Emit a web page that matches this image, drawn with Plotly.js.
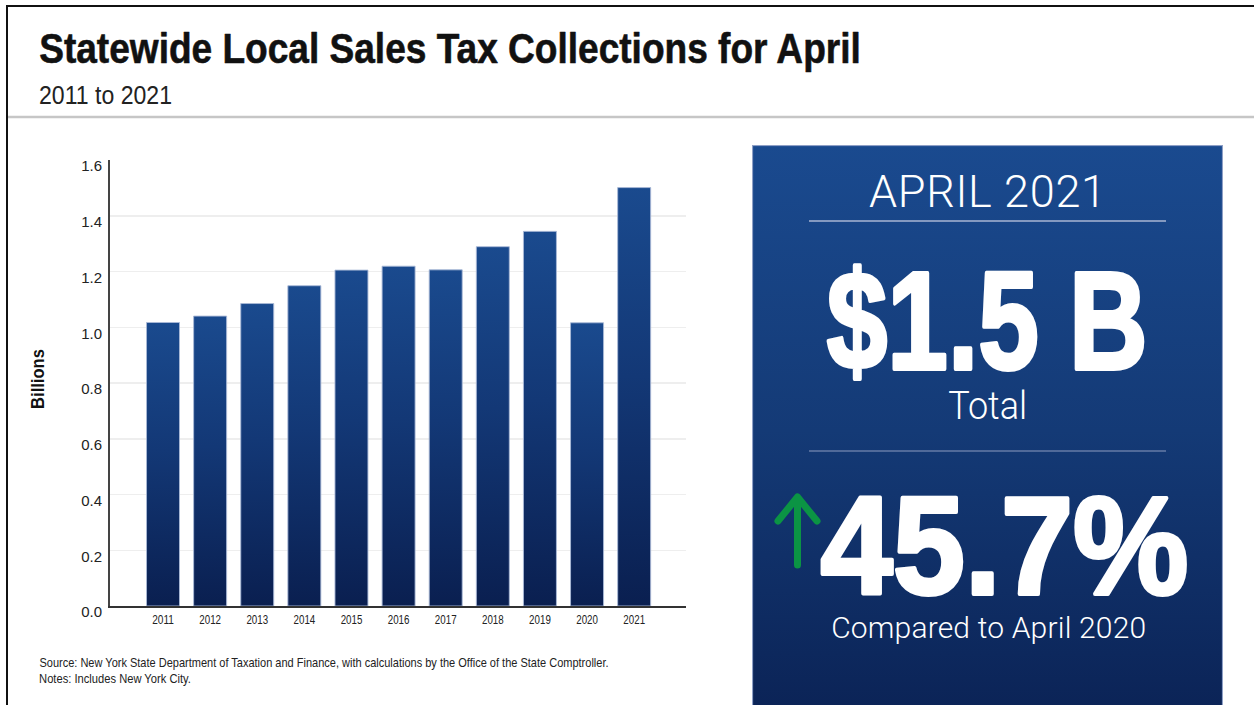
<!DOCTYPE html>
<html>
<head>
<meta charset="utf-8">
<script src="https://cdn.plot.ly/plotly-3.0.1.min.js"></script>
<style>
  html, body { margin: 0; padding: 0; background: #fff; }
  #chart { width: 1254px; height: 705px; }
</style>
</head>
<body>
<div id="chart"></div>
<script>
// ---- data ----
const years = ['2011','2012','2013','2014','2015','2016','2017','2018','2019','2020','2021'];
const collections = [1.017, 1.040, 1.085, 1.149, 1.205, 1.219, 1.206, 1.289, 1.344, 1.016, 1.501];
const yTickVals = [0, 0.2, 0.4, 0.6, 0.8, 1.0, 1.2, 1.4, 1.6];
const yTickText = ['0.0','0.2','0.4','0.6','0.8','1.0','1.2','1.4','1.6'];

const titleText = 'Statewide Local Sales Tax Collections for April';
const subtitleText = '2011 to 2021';
const yLabel = 'Billions';
const panelHeading = 'APRIL 2021';
const panelTotal = '$1.5 B';
const panelTotalLabel = 'Total';
const panelChange = '45.7%';
const panelChangeLabel = 'Compared to April 2020';
const sourceText = 'Source: New York State Department of Taxation and Finance, with calculations by the Office of the State Comptroller.';
const notesText = 'Notes: Includes New York City.';

// ---- layout helpers (pixel -> paper) ----
const W = 1254, H = 705;
const M = {l: 110, r: W - 686, t: 160, b: H - 606};
const PW = W - M.l - M.r, PH = H - M.t - M.b;
const X = px => (px - M.l) / PW;
const Y = py => (H - M.b - py) / PH;

const SANS = 'Liberation Sans, Arial, Helvetica, sans-serif';
const LIGHT = 'Roboto, Liberation Sans, sans-serif';

const panelSvg = '<svg xmlns="http://www.w3.org/2000/svg" width="471" height="565" viewBox="0 0 471 565" preserveAspectRatio="none">' +
  '<defs><linearGradient id="g" x1="0" y1="0" x2="0" y2="1">' +
  '<stop offset="0" stop-color="#1a4a8f"/><stop offset="0.5" stop-color="#143a76"/><stop offset="1" stop-color="#0b2356"/>' +
  '</linearGradient></defs>' +
  '<rect x="0.5" y="0.5" width="470" height="570" fill="url(#g)" stroke="#8fa0c6" stroke-width="1.2"/></svg>';
const panelSrc = 'data:image/svg+xml;charset=utf-8,' + encodeURIComponent(panelSvg);

const data = [{
  type: 'bar',
  x: years,
  y: collections,
  width: 0.7,
  marker: { color: '#143d7a', line: { color: 'rgba(170,185,215,0.9)', width: 1 } },
  hoverinfo: 'x+y'
}];

function ann(text, px, py, font, opts) {
  return Object.assign({
    text: text, xref: 'paper', yref: 'paper', x: X(px), y: Y(py),
    xanchor: 'center', yanchor: 'middle', showarrow: false, font: font
  }, opts || {});
}

// fitting of text widths: [mode, target width px, anchor, extra stroke]
const fits = [];
const annotations = [];
function addAnn(a, fit) { annotations.push(a); fits.push(fit); }

addAnn(ann(titleText, 37, 48, { size: 43, family: SANS, color: '#111111', weight: 'bold' }, { xanchor: 'left' }), ['scale', 822, 'start', 0.6]);
addAnn(ann(subtitleText, 37, 95, { size: 25, family: SANS, color: '#222222' }, { xanchor: 'left' }), ['scale', 133, 'start', 0]);
addAnn(ann(yLabel, 38.5, 379, { size: 18, family: SANS, color: '#111111', weight: 'bold' }, { textangle: -90 }), ['scale', 60, 'middle', 0]);
addAnn(ann(sourceText, 37, 663, { size: 12.5, family: SANS, color: '#222222' }, { xanchor: 'left' }), ['scale', 570, 'start', 0]);
addAnn(ann(notesText, 37, 679, { size: 12.5, family: SANS, color: '#222222' }, { xanchor: 'left' }), ['scale', 152, 'start', 0]);
addAnn(ann(panelHeading, 987, 191, { size: 45, family: LIGHT, color: '#ffffff', weight: 300 }), ['space', 237, 'middle', 0]);
addAnn(ann(panelTotal, 986.5, 320, { size: 140, family: SANS, color: '#ffffff', weight: 'bold' }), ['scale', 321, 'middle', 4]);
addAnn(ann(panelTotalLabel, 987.5, 406, { size: 38, family: LIGHT, color: '#ffffff', weight: 300 }), ['scale', 79, 'middle', 0]);
addAnn(ann(panelChange, 1004, 545, { size: 140, family: SANS, color: '#ffffff', weight: 'bold' }), ['scale', 368, 'middle', 4]);
addAnn(ann(panelChangeLabel, 988.5, 627, { size: 30, family: LIGHT, color: '#ffffff', weight: 300 }), ['space', 315, 'middle', 0]);

const layout = {
  width: W, height: H,
  margin: M,
  paper_bgcolor: '#ffffff',
  plot_bgcolor: '#ffffff',
  showlegend: false,
  xaxis: {
    type: 'category',
    range: [-1.125, 11.1],
    showgrid: false,
    showline: true, linecolor: '#333333', linewidth: 2,
    ticks: '', ticklabelstandoff: 2,
    tickfont: { family: SANS, size: 12, color: '#222222' },
    fixedrange: true
  },
  yaxis: {
    range: [0, 1.6],
    tickvals: yTickVals, ticktext: yTickText,
    showgrid: true, gridcolor: '#eeeeee', gridwidth: 1.5,
    zeroline: false,
    showline: true, linecolor: '#444444', linewidth: 2,
    ticks: '', ticklabelstandoff: 3, ticklabelshift: 6,
    tickfont: { family: SANS, size: 15, color: '#222222' },
    fixedrange: true
  },
  images: [{
    source: panelSrc, xref: 'paper', yref: 'paper',
    x: X(752), y: Y(145), sizex: X(1223) - X(752), sizey: Y(145) - Y(710),
    xanchor: 'left', yanchor: 'top', sizing: 'stretch', layer: 'below'
  }],
  shapes: [
    { type: 'line', xref: 'paper', yref: 'paper', x0: X(6), x1: X(1254), y0: Y(6), y1: Y(6), line: { color: '#111111', width: 2 } },
    { type: 'line', xref: 'paper', yref: 'paper', x0: X(7), x1: X(7), y0: Y(5), y1: Y(705), line: { color: '#111111', width: 2 } },
    { type: 'line', xref: 'paper', yref: 'paper', x0: X(8), x1: X(1254), y0: Y(117), y1: Y(117), line: { color: '#c6c6c6', width: 2.5 } },
    { type: 'line', xref: 'paper', yref: 'paper', x0: X(809), x1: X(1166), y0: Y(221), y1: Y(221), line: { color: '#a9b6d3', width: 1.5 } },
    { type: 'line', xref: 'paper', yref: 'paper', x0: X(809), x1: X(1166), y0: Y(451), y1: Y(451), line: { color: '#8d9cc0', width: 1.2 } },
    { type: 'path', xref: 'paper', yref: 'paper',
      path: 'M' + X(797.5) + ',' + Y(565) + ' L' + X(797.5) + ',' + Y(497) +
            ' M' + X(778) + ',' + Y(521) + ' L' + X(797.5) + ',' + Y(497) + ' L' + X(817) + ',' + Y(521),
      line: { color: '#0b9444', width: 7 } }
  ],
  annotations: annotations
};

function appendTransform(el, t) {
  const cur = el.getAttribute('transform') || '';
  el.setAttribute('transform', (cur + ' ' + t).trim());
}
function fitText(el, fit) {
  if (!el || !fit) return;
  const mode = fit[0], target = fit[1], anchor = fit[2], stroke = fit[3] || 0;
  const b = el.getBBox();
  if (!b.width) return;
  if (mode === 'scale') {
    const s = target / b.width;
    const pv = anchor === 'start' ? b.x : b.x + b.width / 2;
    appendTransform(el, 'translate(' + pv + ',0) scale(' + s + ',1) translate(' + (-pv) + ',0)');
  } else {
    const n = (el.textContent || '').length;
    if (n < 2) return;
    const ls = (target - b.width) / (n - 1);
    el.style.letterSpacing = ls + 'px';
    const b1 = el.getBBox();
    const c0 = b.x + b.width / 2, c1 = b1.x + (b1.width - ls) / 2;
    appendTransform(el, 'translate(' + (c0 - c1) + ',0)');
  }
  if (stroke > 0) {
    el.style.stroke = el.style.fill || 'currentColor';
    el.style.strokeWidth = stroke + 'px';
    el.style.strokeLinejoin = 'round';
  }
}

const gd = document.getElementById('chart');
Plotly.newPlot(gd, data, layout, { displayModeBar: false, staticPlot: true }).then(function () {
  const ns = 'http://www.w3.org/2000/svg';
  const svg = gd.querySelector('.main-svg');
  let defs = svg.querySelector('defs');
  if (!defs) { defs = document.createElementNS(ns, 'defs'); svg.insertBefore(defs, svg.firstChild); }
  const lg = document.createElementNS(ns, 'linearGradient');
  lg.setAttribute('id', 'barGrad');
  lg.setAttribute('x1', '0'); lg.setAttribute('y1', '0');
  lg.setAttribute('x2', '0'); lg.setAttribute('y2', '1');
  [['0', '#1a4a8e'], ['0.45', '#133876'], ['1', '#0a1f50']].forEach(function (s) {
    const st = document.createElementNS(ns, 'stop');
    st.setAttribute('offset', s[0]); st.setAttribute('stop-color', s[1]);
    lg.appendChild(st);
  });
  defs.appendChild(lg);
  gd.querySelectorAll('.barlayer .point path').forEach(function (p) { p.style.fill = 'url(#barGrad)'; });
  gd.querySelectorAll('.shapelayer path').forEach(function (p) {
    if ((p.style.stroke || '').indexOf('148') >= 0) {
      p.style.strokeLinecap = 'round';
      p.style.strokeLinejoin = 'round';
    }
  });
  gd.querySelectorAll('.annotation').forEach(function (g) {
    const idx = +g.getAttribute('data-index');
    fitText(g.querySelector('text.annotation-text'), fits[idx]);
  });
  gd.querySelectorAll('.xtick text').forEach(function (t) {
    fitText(t, ['scale', 22, 'middle', 0]);
  });
});
</script>
</body>
</html>
